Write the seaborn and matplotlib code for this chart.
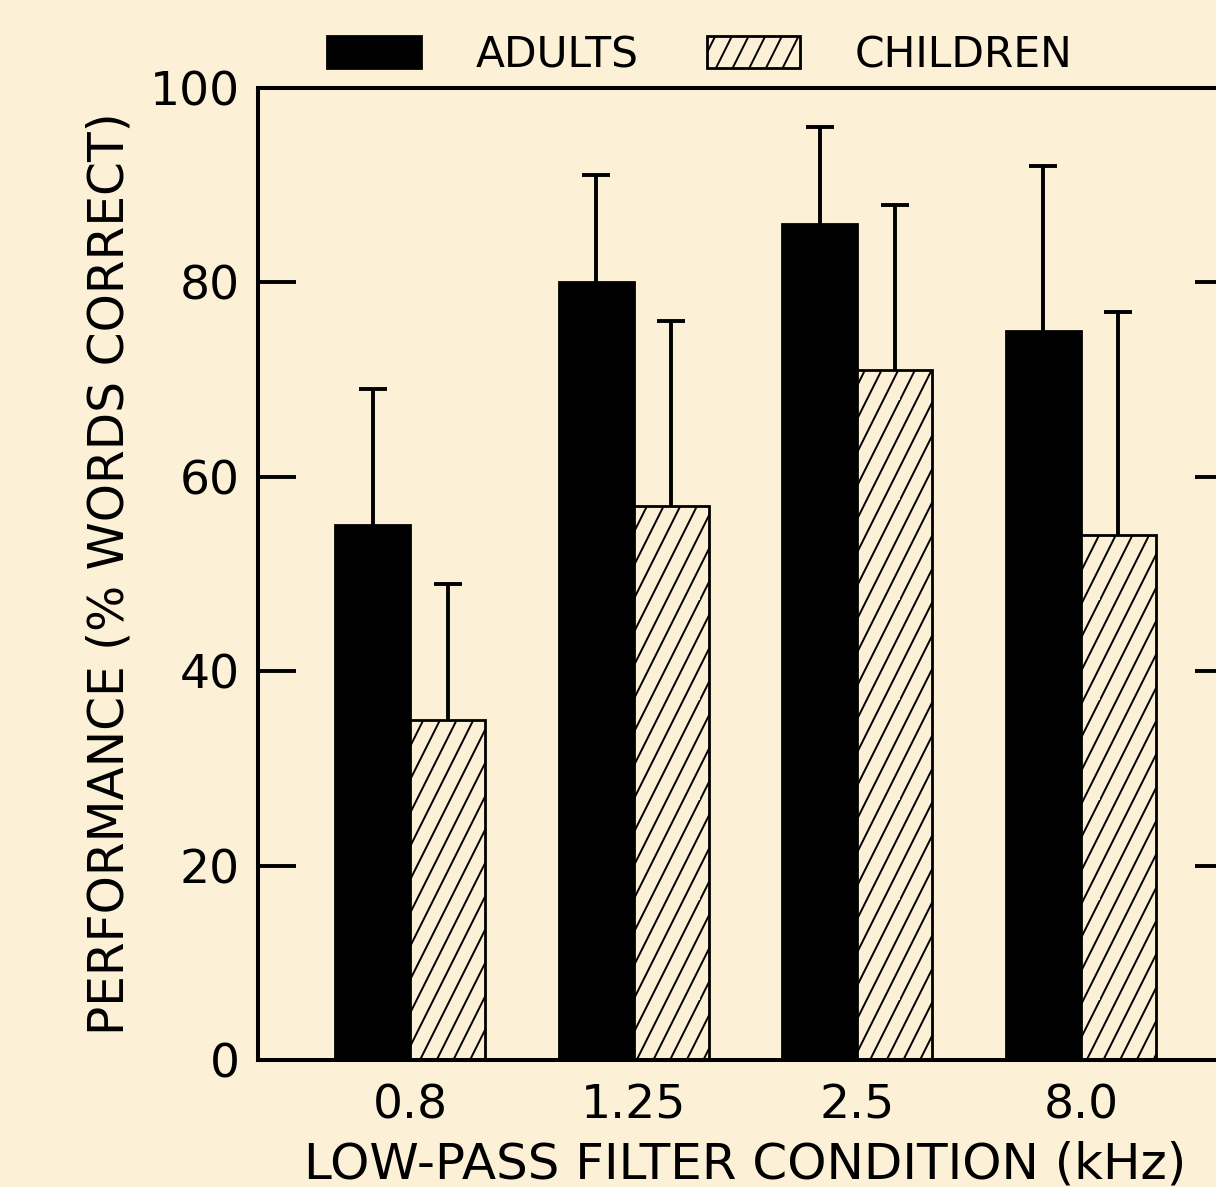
import numpy as np
import pandas as pd
import seaborn as sns
import matplotlib.pyplot as plt
import matplotlib.hatch as mhatch
from matplotlib.path import Path

# values
conditions = ["0.8", "1.25", "2.5", "8.0"]
groups = ["ADULTS", "CHILDREN"]
adults = [55, 80, 86, 75]
children = [35, 57, 71, 54]
adults_upper = [69, 91, 96, 92]      # top of the (one-sided) error bar
children_upper = [49, 76, 88, 77]
yticks = [0, 20, 40, 60, 80, 100]

BG = "#fcf0d6"


class SteepHatch(mhatch.HatchPatternBase):
    # '/' hatch drawn steeper than 45 deg, like the old plotter output
    def __init__(self, hatch, density):
        self.n = hatch.count("/") * density
        self.num_vertices = (self.n + self.n // 2) * 2 if self.n else 0

    def set_vertices_and_codes(self, vertices, codes):
        starts = np.arange(-(self.n // 2), self.n) / self.n
        vertices[0::2, 0] = starts
        vertices[0::2, 1] = 0.0
        vertices[1::2, 0] = starts + 0.5
        vertices[1::2, 1] = 1.0
        codes[0::2] = Path.MOVETO
        codes[1::2] = Path.LINETO


mhatch._hatch_types[mhatch._hatch_types.index(mhatch.NorthEastHatch)] = SteepHatch

sns.set_theme(style="ticks")
plt.rcParams["font.family"] = ["DejaVu Sans"]
plt.rcParams["text.color"] = "black"
plt.rcParams["hatch.linewidth"] = 1.4
plt.rcParams["hatch.color"] = "black"

df = pd.DataFrame({
    "condition": conditions * 2,
    "group": [groups[0]] * len(conditions) + [groups[1]] * len(conditions),
    "score": adults + children,
})

fig = plt.figure(figsize=(12.16, 11.87), dpi=100, facecolor=BG)
ax = fig.add_axes([258 / 1216, 127 / 1187, (1233 - 258) / 1216, (1060 - 88) / 1187])
ax.set_facecolor(BG)

sns.barplot(
    data=df, x="condition", y="score", hue="group", hue_order=groups,
    palette=["black", BG], saturation=1, width=0.67, edgecolor="black",
    linewidth=2, errorbar=None, legend=False, ax=ax,
)

bar_sets = list(ax.containers[:2])
for bar in bar_sets[1]:
    bar.set_hatch("/")

# one-sided error bars (upper only), cap only at the top
for cont, tops in zip(bar_sets, [adults_upper, children_upper]):
    xs = [b.get_x() + b.get_width() / 2 for b in cont]
    hs = np.array([b.get_height() for b in cont])
    up = np.array(tops) - hs
    ax.errorbar(xs, hs, yerr=[np.zeros_like(up), up], fmt="none",
                ecolor="black", elinewidth=2.8, capsize=0, zorder=3)
    ax.plot(xs, tops, linestyle="none", marker="_", markersize=20,
            markeredgewidth=2.8, color="black", zorder=3)

ax.set_xlim(-0.68, 3.68)
ax.set_ylim(0, 100)
ax.set_yticks(yticks)
ax.tick_params(axis="y", which="both", direction="in", length=27.4, width=2.8,
               right=True, labelsize=34, pad=13, colors="black")
ax.tick_params(axis="x", length=0, labelsize=34, pad=17, colors="black")
for s in ax.spines.values():
    s.set_linewidth(2.9)
    s.set_color("black")
    s.set_visible(True)

ax.set_xlabel("LOW-PASS FILTER CONDITION (kHz)", fontsize=36, color="black")
ax.set_ylabel("PERFORMANCE (% WORDS CORRECT)", fontsize=35, color="black")
ax.xaxis.set_label_coords(0.5, -0.083)
ax.yaxis.set_label_coords(-0.128, 0.5)

fig.legend(
    handles=bar_sets, labels=groups, loc="center",
    bbox_to_anchor=(700 / 1216, 1 - 55 / 1187), ncol=2, frameon=False,
    fontsize=30.5, handlelength=2.2, handleheight=0.78, handletextpad=1.3,
    columnspacing=1.6, borderaxespad=0, borderpad=0, labelcolor="black",
)

fig.savefig("out.png", dpi=100, facecolor=BG)
